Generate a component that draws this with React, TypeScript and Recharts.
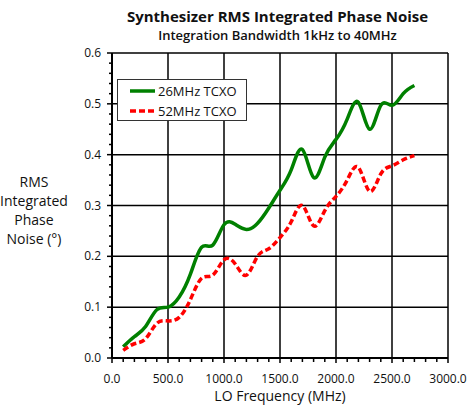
import { LineChart, Line, XAxis, YAxis, CartesianGrid } from 'recharts'

const freqs = [
  100, 200, 300, 400, 500, 600, 700, 800, 900, 1000, 1100, 1200, 1300, 1400,
  1500, 1600, 1700, 1800, 1900, 2000, 2100, 2200, 2300, 2400, 2500, 2600, 2700,
]
const tcxo26 = [
  0.022, 0.042, 0.062, 0.095, 0.1, 0.12, 0.165, 0.218, 0.222, 0.262, 0.263, 0.253, 0.265, 0.295,
  0.33, 0.37, 0.41, 0.355, 0.395, 0.43, 0.47, 0.503, 0.45, 0.497, 0.497, 0.52, 0.536,
]
const tcxo52 = [
  0.015, 0.028, 0.038, 0.068, 0.073, 0.08, 0.115, 0.157, 0.163, 0.193, 0.185, 0.163, 0.2, 0.215,
  0.237, 0.268, 0.3, 0.26, 0.29, 0.318, 0.35, 0.375, 0.328, 0.362, 0.378, 0.39, 0.398,
]
const xMajor = [0, 500, 1000, 1500, 2000, 2500, 3000]
const yMajor = [0, 0.1, 0.2, 0.3, 0.4, 0.5, 0.6]
const xTicks = Array.from({ length: 31 }, (_, i) => i * 100)
const yTicks = Array.from({ length: 31 }, (_, i) => Math.round(i * 2) / 100)

const data = freqs.map((f, i) => ({ f, a: tcxo26[i], b: tcxo52[i] }))
const font = '"Open Sans", sans-serif'

const isMajorX = (v: number) => xMajor.includes(v)
const isMajorY = (v: number) => yMajor.some((m) => Math.abs(m - v) < 1e-6)

function XTick({ x, y, payload }: any) {
  const major = isMajorX(payload.value)
  return (
    <g>
      <line x1={x} x2={x} y1={y} y2={y + (major ? 5 : 4)} stroke="#000" strokeWidth={1.5} />
      {major && (
        <text x={x} y={y + 25} textAnchor="middle" fontSize={12} fontFamily={font} fill="#111">
          {payload.value.toFixed(1)}
        </text>
      )}
    </g>
  )
}

function YTick({ x, y, payload }: any) {
  const major = isMajorY(payload.value)
  return (
    <g>
      <line x1={x - (major ? 5 : 3)} x2={x} y1={y} y2={y} stroke="#000" strokeWidth={1.5} />
      {major && (
        <text x={x - 11} y={y + 4} textAnchor="end" fontSize={12} fontFamily={font} fill="#111">
          {payload.value.toFixed(1)}
        </text>
      )}
    </g>
  )
}

function LegendBox() {
  return (
    <div
      style={{
        position: 'absolute',
        left: 117,
        top: 79,
        width: 130,
        height: 42,
        border: '1.5px solid #333',
        background: '#fff',
        fontFamily: font,
        fontSize: 13,
        color: '#111',
        boxSizing: 'border-box',
        padding: '1px 0 0 12px',
      }}
    >
      <div style={{ display: 'flex', alignItems: 'center', height: 20 }}>
        <svg width={26} height={6}>
          <line x1={0} x2={25} y1={3} y2={3} stroke="#008000" strokeWidth={3.5} />
        </svg>
        <span style={{ marginLeft: 2 }}>26MHz TCXO</span>
      </div>
      <div style={{ display: 'flex', alignItems: 'center', height: 20 }}>
        <svg width={26} height={6}>
          <line x1={0} x2={25} y1={3} y2={3} stroke="#ff0000" strokeWidth={3.5} strokeDasharray="6 3" />
        </svg>
        <span style={{ marginLeft: 2 }}>52MHz TCXO</span>
      </div>
    </div>
  )
}

export default function App() {
  return (
    <div style={{ position: 'absolute', left: 0, top: 0, width: 469, height: 405, background: '#fff' }}>
      <div
        style={{
          position: 'absolute',
          left: 0,
          width: 555,
          top: 6,
          textAlign: 'center',
          fontFamily: font,
          fontWeight: 700,
          fontSize: 15,
          color: '#111',
          lineHeight: '20px',
        }}
      >
        Synthesizer RMS Integrated Phase Noise
      </div>
      <div
        style={{
          position: 'absolute',
          left: 0,
          width: 555,
          top: 25,
          textAlign: 'center',
          fontFamily: font,
          fontWeight: 600,
          fontSize: 13,
          color: '#111',
          lineHeight: '20px',
        }}
      >
        Integration Bandwidth 1kHz to 40MHz
      </div>
      <div
        style={{
          position: 'absolute',
          left: 0,
          width: 68,
          top: 172,
          textAlign: 'center',
          fontFamily: font,
          fontSize: 14,
          color: '#111',
          lineHeight: '19px',
        }}
      >
        RMS
        <br />
        Integrated
        <br />
        Phase
        <br />
        Noise (°)
      </div>
      <div
        style={{
          position: 'absolute',
          left: 112,
          width: 336,
          top: 387,
          textAlign: 'center',
          fontFamily: font,
          fontSize: 14,
          color: '#111',
          lineHeight: '18px',
        }}
      >
        LO Frequency (MHz)
      </div>
      <LineChart
        width={469}
        height={405}
        data={data}
        margin={{ top: 53, right: 21, bottom: 0, left: 0 }}
        style={{ position: 'absolute', left: 0, top: 0 }}
      >
        <CartesianGrid
          stroke="#000"
          strokeWidth={1.5}
          verticalValues={xMajor}
          horizontalValues={yMajor}
        />
        <XAxis
          dataKey="f"
          type="number"
          domain={[0, 3000]}
          ticks={xTicks}
          interval={0}
          tickSize={0}
          tickMargin={0}
          height={47}
          tick={<XTick />}
          axisLine={{ stroke: '#000', strokeWidth: 2 }}
          tickLine={false}
        />
        <YAxis
          type="number"
          domain={[0, 0.6]}
          ticks={yTicks}
          interval={0}
          tickSize={0}
          tickMargin={0}
          width={112}
          tick={<YTick />}
          axisLine={{ stroke: '#000', strokeWidth: 2 }}
          tickLine={false}
        />
        <Line
          type="natural"
          dataKey="a"
          name="26MHz TCXO"
          stroke="#008000"
          strokeWidth={3.5}
          dot={false}
          isAnimationActive={false}
        />
        <Line
          type="natural"
          dataKey="b"
          name="52MHz TCXO"
          stroke="#ff0000"
          strokeWidth={3.5}
          strokeDasharray="6 3"
          dot={false}
          isAnimationActive={false}
        />
      </LineChart>
      <LegendBox />
    </div>
  )
}
